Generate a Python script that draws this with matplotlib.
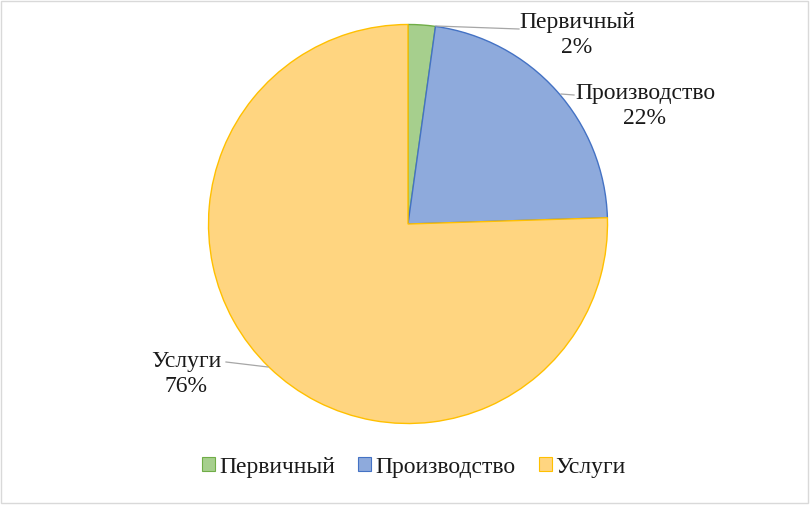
import matplotlib
matplotlib.use("Agg")
import matplotlib.pyplot as plt
import matplotlib.patches as mpatches
import numpy as np

categories = ["Первичный", "Производство", "Услуги"]
values = [2.2, 22.3, 75.5]
face_colors = ["#a6cf8d", "#8eaadc", "#ffd580"]
edge_colors = ["#70ad47", "#4472c4", "#ffc000"]

plt.rcParams['font.family'] = ['Liberation Serif', 'DejaVu Serif']

W, H = 810, 510
fig = plt.figure(figsize=(W / 100, H / 100), dpi=100)

cx, cy, r = 408, 225, 199.5
ax = fig.add_axes([(cx - r) / W, (H - cy - r) / H, 2 * r / W, 2 * r / H])
wedges, _ = ax.pie(values, colors=face_colors, startangle=90, counterclock=False,
                   radius=1, wedgeprops=dict(linewidth=1.0))
for w, ec in zip(wedges, edge_colors):
    w.set_edgecolor(ec)
ax.set_xlim(-1, 1)
ax.set_ylim(-1, 1)
ax.set_aspect('equal')
ax.axis('off')

def px2d(px, py):
    return ((px - cx) / r, (cy - py) / r)

label_pos = [(577, 35), (645, 106), (186, 374)]
line_end = [(519, 30), (574, 96), (226, 363)]
line_start = [(436, 27), (561, 95), (268, 368)]

for i, cat in enumerate(categories):
    tx, ty = px2d(*label_pos[i])
    ax.text(tx, ty, f"{cat}\n{int(round(values[i]))}%", ha='center', va='center',
            fontsize=17, color='#1a1a1a', linespacing=1.3, clip_on=False)
    x0, y0 = px2d(*line_start[i])
    x1, y1 = px2d(*line_end[i])
    ax.plot([x0, x1], [y0, y1], color='#a6a6a6', lw=0.9, clip_on=False)

handles = [mpatches.Patch(facecolor=fc, edgecolor=ec, linewidth=0.8)
           for fc, ec in zip(face_colors, edge_colors)]
fig.legend(handles, categories, loc='center', bbox_to_anchor=(414 / W, 1 - 468 / H),
           ncol=3, frameon=False, fontsize=17, handlelength=0.55, handleheight=0.55,
           handletextpad=0.15, columnspacing=1.0, labelcolor='#1a1a1a')

fig.patches.append(mpatches.Rectangle((1 / W, 6 / H), (W - 3) / W, (H - 8) / H,
                                      transform=fig.transFigure, fill=False,
                                      edgecolor='#d9d9d9', linewidth=1))

fig.savefig("out.png", dpi=100)
